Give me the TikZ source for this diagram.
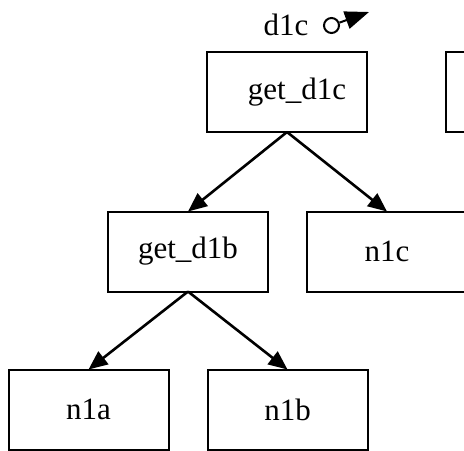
\documentclass[tikz,border=0pt]{standalone}
\usepackage{fontspec}
\setmainfont{Liberation Serif}
\usetikzlibrary{arrows.meta}
\newlength{\mydrawlinewidth}
\setlength{\mydrawlinewidth}{1pt}
\tikzset{
    callbox/.style={
        rectangle,draw,
        line width=\mydrawlinewidth,
        inner sep=0pt,outer sep=0pt,
        minimum width=80pt,minimum height=40pt,
        font=\fontsize{15.5}{18}\selectfont,
        },
    calledge/.style={
        -{Triangle[length=9.5pt,width=8pt]},
        line width=1.3pt,
        },
}

\begin{document}
\begin{tikzpicture}[x=0.5pt,y=-0.5pt]
        \clip (0,0) rectangle (464,450);
        % top row
        \node[callbox] (getdlc) at (287,92) {\hspace*{10pt}get\_d1c};
        \node[callbox] (other) at (526,92) {};
        % result marker above get_d1c
        \node[font=\fontsize{15.5}{18}\selectfont] (dlclabel) at (286,25) {d1c};
        \node[circle,draw,line width=\mydrawlinewidth,
              minimum size=7.5pt,inner sep=0pt] (ring) at (331.5,25.5) {};
        \coordinate (ringtip) at (369,12);
        \draw[-{Triangle[length=12pt,width=9pt]},line width=\mydrawlinewidth]
            (ring) -- (ringtip);
        % middle row
        \node[callbox] (getdlb) at (188,251.5) {get\_d1b};
        \node[callbox] (nlc) at (387,251.5) {n1c};
        % bottom row
        \node[callbox] (nla) at (88.5,409.5) {n1a};
        \node[callbox] (nlb) at (287.5,409.5) {n1b};
        % calls
        \draw[calledge] (getdlc.south) -- (getdlb.north);
        \draw[calledge] (getdlc.south) -- (nlc.north);
        \draw[calledge] (getdlb.south) -- (nla.north);
        \draw[calledge] (getdlb.south) -- (nlb.north);
\end{tikzpicture}
\end{document}
